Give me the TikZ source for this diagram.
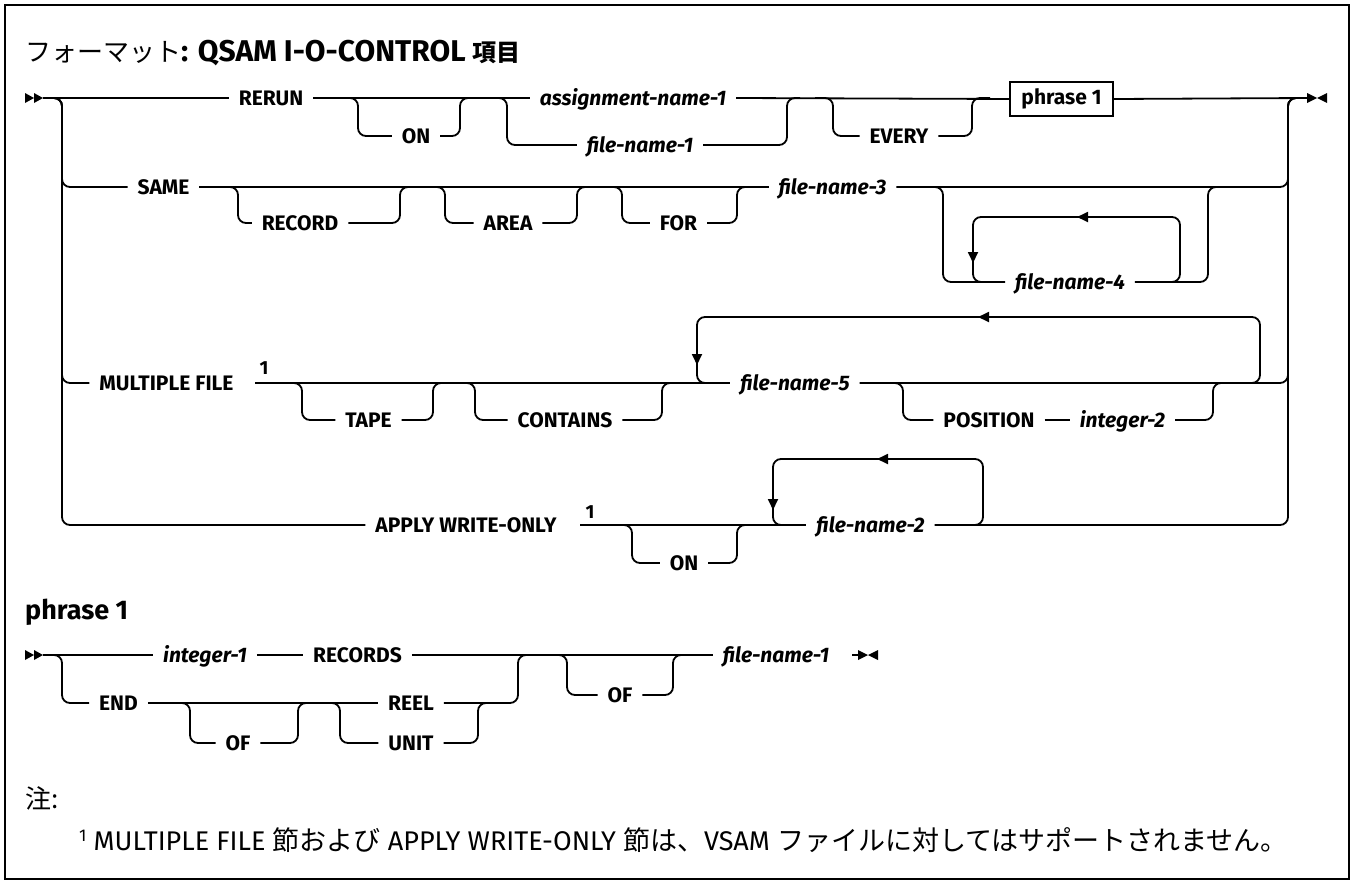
\documentclass[tikz,border=0pt]{standalone}
\usepackage{fontspec}
\setmainfont{Fira Sans}
\newfontfamily\jpfont{Noto Sans CJK JP}
\usetikzlibrary{arrows.meta, positioning}

% start and end marks of a syntax line
\newcommand{\railstart}[2]{%
  \fill (#1,#2-5) -- ++(9,5) -- ++(-9,5) -- cycle
        (#1+9,#2-5) -- ++(9,5) -- ++(-9,5) -- cycle;}
\newcommand{\railend}[2]{%
  \fill (#1,#2-5) -- ++(10,5) -- ++(-10,5) -- cycle
        (#1+20,#2-5) -- ++(-10,5) -- ++(10,5) -- cycle;}

\tikzset{
  rail/.style={line width=1.8pt, rounded corners=8pt},
  looparrow/.style={line width=1.8pt, -{Triangle[length=11pt,width=10pt]}},
  kwd/.style={font=\fontsize{21}{24}\selectfont\bfseries, text height=15pt,
    text depth=0pt, inner sep=0pt, outer sep=10pt},
  vname/.style={kwd, font=\fontsize{21}{24}\selectfont\bfseries\itshape},
  supnum/.style={font=\fontsize{19}{22}\selectfont\bfseries, inner sep=0pt},
  refbox/.style={draw, line width=1.8pt, minimum width=103pt, minimum height=34pt,
    inner sep=0pt, font=\fontsize{21}{24}\selectfont\bfseries},
  heading/.style={anchor=west, inner sep=0pt}
}

\begin{document}
\begin{tikzpicture}[x=1pt, y=-1pt]
  \useasboundingbox (0,0) rectangle (1354,884);
  \draw[line width=2pt] (5,5) rectangle (1349,879);

  \node[heading] (title) at (25,53)
    {{\jpfont\fontsize{26}{28}\selectfont フォーマット}\fontsize{30}{34}\selectfont\bfseries: QSAM I-O-CONTROL {\jpfont\fontsize{24}{28}\selectfont 項目}};

  % row 1: RERUN
  \railstart{25}{98}
  \node[kwd] (rerun) at (271,98) {RERUN};
  \node[kwd] (on1) at (416,136) {ON};
  \node[vname] (asgn1) at (633,98) {assignment-name-1};
  \node[vname] (fname1) at (640,145) {file-name-1};
  \node[kwd] (every) at (899,136) {EVERY};
  \node[refbox] (phr) at (1061.5,99) {phrase 1};

  \draw[rail] (43,98) -- (rerun.west);
  \draw[rail] (rerun.east) -- (asgn1.west);
  \draw[rail] (340,98) -- (358,98) |- (on1.west);
  \draw[rail] (on1.east) -| (460,98) -- (475,98);
  \draw[rail] (490,98) -- (507,98) |- (fname1.west);
  \draw[rail] (fname1.east) -| (787,98) -- (800,98);
  \draw[rail] (asgn1.east) -- (phr.west);
  \draw[rail] (815,98) -- (833,98) |- (every.west);
  \draw[rail] (every.east) -| (972,98) -- (990,98);
  \draw[rail] (phr.east) -- (1307,98);
  \railend{1307}{98}

  % row 2: SAME
  \node[kwd] (same) at (163.5,187) {SAME};
  \node[kwd] (record) at (300,223) {RECORD};
  \node[kwd] (area) at (508,223) {AREA};
  \node[kwd] (for) at (678.5,223) {FOR};
  \node[vname] (fname3) at (832.5,187) {file-name-3};
  \node[vname] (fname4) at (1070,282) {file-name-4};

  \draw[rail] (45,98) -- (62,98) |- (same.west);
  \draw[rail] (same.east) -- (fname3.west);
  \draw[rail] (222,187) -- (238,187) |- (record.west);
  \draw[rail] (record.east) -| (400,187) -- (415,187);
  \draw[rail] (430,187) -- (445,187) |- (area.west);
  \draw[rail] (area.east) -| (577,187) -- (592,187);
  \draw[rail] (607,187) -- (622,187) |- (for.west);
  \draw[rail] (for.east) -| (737,187) -- (752,187);
  \draw[rail] (fname3.east) -- (1288,187) |- (1300,98);
  \draw[rail] (928,187) -- (943,187) |- (fname4.west);
  \draw[rail] (fname4.east) -| (1208,187) -- (1222,187);
  \draw[rail] (1165,282) -- (1180,282) -- (1180,217) -- (973,217) -- (973,282) -- (990,282);
  \draw[looparrow] (1092,217) -- (1077,217);
  \draw[looparrow] (973,248) -- (973,263);

  % row 3: MULTIPLE FILE
  \node[kwd] (multi) at (166.5,383) {MULTIPLE FILE};
  \node[supnum] (sup1) at (264,368) {1};
  \node[kwd] (tape) at (368.5,420) {TAPE};
  \node[kwd] (contains) at (565,420) {CONTAINS};
  \node[vname] (fname5) at (795,383) {file-name-5};
  \node[kwd] (position) at (989,420) {POSITION};
  \node[vname] (int2) at (1122.5,420) {integer-2};

  \draw[rail] (45,98) -- (62,98) |- (multi.west);
  \draw[rail] (255,383) -- (fname5.west);
  \draw[rail] (287,383) -- (302,383) |- (tape.west);
  \draw[rail] (tape.east) -| (433,383) -- (448,383);
  \draw[rail] (460,383) -- (475,383) |- (contains.west);
  \draw[rail] (contains.east) -| (662,383) -- (677,383);
  \draw[rail] (fname5.east) -- (1288,383) |- (1300,98);
  \draw[rail] (888,383) -- (903,383) |- (position.west);
  \draw[rail] (position.east) -- (int2.west);
  \draw[rail] (int2.east) -| (1213,383) -- (1228,383);
  \draw[rail] (1242,383) -- (1260,383) -- (1260,317) -- (697,317) -- (697,383) -- (714,383);
  \draw[looparrow] (993,317) -- (978,317);
  \draw[looparrow] (697,350) -- (697,365);

  % row 4: APPLY WRITE-ONLY
  \node[kwd] (apply) at (466,525) {APPLY WRITE-ONLY};
  \node[supnum] (sup2) at (590,512) {1};
  \node[kwd] (on4) at (684,563) {ON};
  \node[vname] (fname2) at (870.5,525) {file-name-2};

  \draw[rail] (45,98) -- (62,98) |- (apply.west);
  \draw[rail] (580,525) -- (fname2.west);
  \draw[rail] (617,525) -- (632,525) |- (on4.west);
  \draw[rail] (on4.east) -| (737,525) -- (752,525);
  \draw[rail] (fname2.east) -- (1288,525) |- (1300,98);
  \draw[rail] (965,525) -- (983,525) -- (983,459) -- (773,459) -- (773,525) -- (790,525);
  \draw[looparrow] (892,459) -- (877,459);
  \draw[looparrow] (773,495) -- (773,510);

  % phrase 1
  \node[heading, font=\fontsize{27}{32}\selectfont\bfseries] (phead) at (25,612) {phrase 1};
  \railstart{25}{655}
  \node[vname] (int1) at (205,655) {integer-1};
  \node[kwd] (records) at (357.5,655) {RECORDS};
  \node[kwd] (endkw) at (118.5,703) {END};
  \node[kwd] (of1) at (238,743) {OF};
  \node[kwd] (reel) at (411,703) {REEL};
  \node[kwd] (unit) at (411,743) {UNIT};
  \node[kwd] (of2) at (620,695) {OF};
  \node[vname] (fname1b) at (776,655) {file-name-1};

  \draw[rail] (43,655) -- (int1.west);
  \draw[rail] (45,655) -- (62,655) |- (endkw.west);
  \draw[rail] (int1.east) -- (records.west);
  \draw[rail] (records.east) -- (fname1b.west);
  \draw[rail] (endkw.east) -- (reel.west);
  \draw[rail] (175,703) -- (190,703) |- (of1.west);
  \draw[rail] (of1.east) -| (298,703) -- (313,703);
  \draw[rail] (325,703) -- (340,703) |- (unit.west);
  \draw[rail] (reel.east) -| (518,655) -- (533,655);
  \draw[rail] (unit.east) -| (478,703) -- (493,703);
  \draw[rail] (552,655) -- (567,655) |- (of2.west);
  \draw[rail] (of2.east) -| (673,655) -- (688,655);
  \draw[rail] (852,655) -- (860,655);
  \railend{858}{655}

  % notes
  \node[heading, font=\jpfont\fontsize{26}{30}\selectfont] (chu) at (25,798) {注:};
  \node[heading, font=\fontsize{27}{32}\selectfont] (fnote) at (79,840)
    {\raisebox{9pt}{\fontsize{17}{20}\selectfont 1} MULTIPLE FILE {\jpfont 節および} APPLY WRITE-ONLY {\jpfont 節は、}VSAM {\jpfont ファイルに対してはサポートされません。}};
\end{tikzpicture}
\end{document}
